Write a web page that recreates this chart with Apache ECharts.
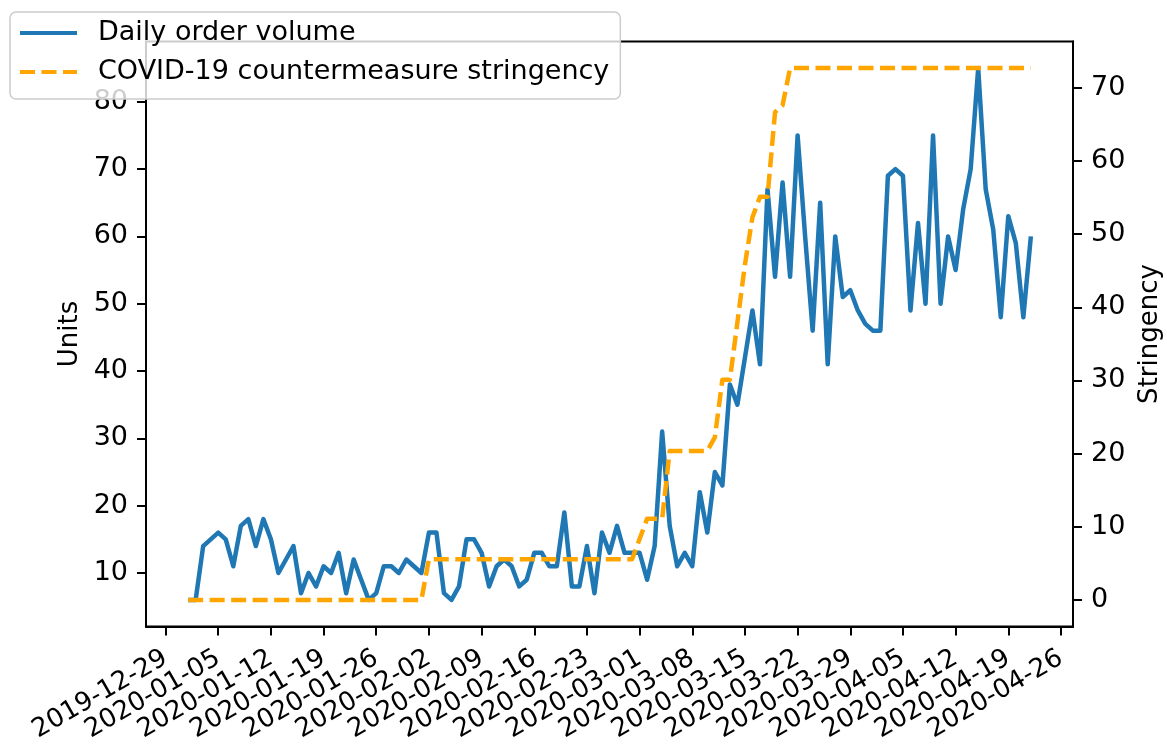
<!DOCTYPE html>
<html>
<head>
<meta charset="utf-8">
<script src="https://cdn.jsdelivr.net/npm/echarts@6/dist/echarts.min.js"></script>
<style>
  html, body { margin: 0; padding: 0; background: #ffffff; }
  #chart { width: 1167px; height: 744px; }
</style>
</head>
<body>
<div id="chart"></div>
<script>
// First day of the daily series
const startDate = '2020-01-01';

// Weekly date ticks on the x axis
const tickDates = [
  '2019-12-29', '2020-01-05', '2020-01-12', '2020-01-19', '2020-01-26',
  '2020-02-02', '2020-02-09', '2020-02-16', '2020-02-23', '2020-03-01',
  '2020-03-08', '2020-03-15', '2020-03-22', '2020-03-29', '2020-04-05',
  '2020-04-12', '2020-04-19', '2020-04-26'
];

// Tick values of the two y axes
const unitTicks = [10, 20, 30, 40, 50, 60, 70, 80];
const stringencyTicks = [0, 10, 20, 30, 40, 50, 60, 70];

// Daily order volume, 2020-01-01 .. 2020-04-22
const orders = [
  6, 6, 14, 15, 16, 15, 11, 17, 18, 14,
  18, 15, 10, 12, 14, 7, 10, 8, 11, 10,
  13, 7, 12, 9, 6, 7, 11, 11, 10, 12,
  11, 10, 16, 16, 7, 6, 8, 15, 15, 13,
  8, 11, 12, 11, 8, 9, 13, 13, 11, 11,
  19, 8, 8, 14, 7, 16, 13, 17, 13, 13,
  13, 9, 14, 31, 17, 11, 13, 11, 22, 16,
  25, 23, 38, 35, 42, 49, 41, 67, 54, 68,
  54, 75, 60, 46, 65, 41, 60, 51, 52, 49,
  47, 46, 46, 69, 70, 69, 49, 62, 50, 75,
  50, 60, 55, 64, 70, 85, 67, 61, 48, 63,
  59, 48, 60
];

// COVID-19 countermeasure stringency index, same days
const stringency = [
  0, 0, 0, 0, 0, 0, 0, 0, 0, 0,
  0, 0, 0, 0, 0, 0, 0, 0, 0, 0,
  0, 0, 0, 0, 0, 0, 0, 0, 0, 0,
  0, 0, 5.56, 5.56, 5.56, 5.56, 5.56, 5.56, 5.56, 5.56,
  5.56, 5.56, 5.56, 5.56, 5.56, 5.56, 5.56, 5.56, 5.56, 5.56,
  5.56, 5.56, 5.56, 5.56, 5.56, 5.56, 5.56, 5.56, 5.56, 5.56,
  8.33, 11.11, 11.11, 11.11, 20.37, 20.37, 20.37, 20.37, 20.37, 20.37,
  22.22, 30.09, 30.09, 37.96, 45.83, 52.31, 55.09, 55.09, 66.67, 67.59,
  72.69, 72.69, 72.69, 72.69, 72.69, 72.69, 72.69, 72.69, 72.69, 72.69,
  72.69, 72.69, 72.69, 72.69, 72.69, 72.69, 72.69, 72.69, 72.69, 72.69,
  72.69, 72.69, 72.69, 72.69, 72.69, 72.69, 72.69, 72.69, 72.69, 72.69,
  72.69, 72.69, 72.69
];

const FONT = 'DejaVu Sans';
const DAY_MS = 86400000;
const toDay = s => Date.parse(s + 'T00:00:00Z') / DAY_MS;
const dayLabel = d => new Date(Math.round(d) * DAY_MS).toISOString().slice(0, 10);

const firstDay = toDay(startDate);
const orderData = orders.map((v, i) => [firstDay + i, v]);
const stringencyData = stringency.map((v, i) => [firstDay + i, v]);

// 5% breathing room around the data on each axis
function padded(lo, hi) {
  const m = (hi - lo) * 0.05;
  return [lo - m, hi + m];
}
const xRange = padded(firstDay, firstDay + orders.length - 1);
const unitRange = padded(Math.min(...orders), Math.max(...orders));
const stringencyRange = padded(Math.min(...stringency), Math.max(...stringency));
const xTicks = tickDates.map(toDay);

const spineStyle = { color: '#000000', width: 2 };
const labelStyle = { color: '#000000', fontFamily: FONT, fontSize: 27, showMinLabel: true, showMaxLabel: true };
const nameStyle = { color: '#000000', fontFamily: FONT, fontSize: 26 };

const chart = echarts.init(document.getElementById('chart'), null, { renderer: 'canvas' });

chart.setOption({
  animation: false,
  backgroundColor: '#ffffff',
  grid: {
    left: 146, right: 94, top: 41.5, bottom: 117.5,
    show: true, borderColor: '#000000', borderWidth: 2,
    backgroundColor: 'transparent',
    containLabel: false, outerBoundsMode: 'none'
  },
  legend: {
    orient: 'vertical',
    left: 10, top: 12,
    padding: [6, 11, 12, 8],
    itemGap: 9,
    itemWidth: 57, itemHeight: 14,
    backgroundColor: 'rgba(255,255,255,0.8)',
    borderColor: '#cccccc', borderWidth: 1.5, borderRadius: 6,
    itemStyle: { opacity: 0 },
    lineStyle: { width: 4 },
    textStyle: { color: '#000000', fontFamily: FONT, fontSize: 27, lineHeight: 30, padding: [0, 0, 0, 16] },
    data: ['Daily order volume', 'COVID-19 countermeasure stringency']
  },
  xAxis: {
    type: 'value',
    min: xRange[0], max: xRange[1],
    axisLine: { show: true, onZero: false, lineStyle: spineStyle },
    splitLine: { show: false },
    axisTick: { show: true, customValues: xTicks, length: 9, lineStyle: spineStyle },
    // slightly smaller so the slanted neighbours keep every weekly label
    axisLabel: Object.assign({ customValues: xTicks, rotate: 30, margin: 30, hideOverlap: false,
      formatter: v => dayLabel(v) }, labelStyle, { fontSize: 26 })
  },
  yAxis: [
    {
      type: 'value', position: 'left',
      min: unitRange[0], max: unitRange[1],
      name: 'Units', nameLocation: 'middle', nameRotate: 90, nameGap: 63,
      nameMoveOverlap: false,
      nameTextStyle: nameStyle,
      axisLine: { show: true, onZero: false, lineStyle: spineStyle },
      splitLine: { show: false },
      axisTick: { show: true, customValues: unitTicks, length: 9, lineStyle: spineStyle },
      axisLabel: Object.assign({ customValues: unitTicks, margin: 18 }, labelStyle)
    },
    {
      type: 'value', position: 'right',
      min: stringencyRange[0], max: stringencyRange[1],
      name: 'Stringency', nameLocation: 'middle', nameRotate: 90, nameGap: 64,
      nameMoveOverlap: false,
      nameTextStyle: nameStyle,
      axisLine: { show: true, onZero: false, lineStyle: spineStyle },
      splitLine: { show: false },
      axisTick: { show: true, customValues: stringencyTicks, length: 9, lineStyle: spineStyle },
      axisLabel: Object.assign({ customValues: stringencyTicks, margin: 18 }, labelStyle)
    }
  ],
  series: [
    {
      name: 'Daily order volume',
      type: 'line',
      xAxisIndex: 0, yAxisIndex: 0,
      data: orderData,
      symbol: 'none', showSymbol: false,
      lineStyle: { color: '#1f77b4', width: 4.5, cap: 'butt', join: 'round' },
      itemStyle: { color: '#1f77b4' },
      z: 2
    },
    {
      name: 'COVID-19 countermeasure stringency',
      type: 'line',
      xAxisIndex: 0, yAxisIndex: 1,
      data: stringencyData,
      symbol: 'none', showSymbol: false,
      lineStyle: { color: '#ffa500', width: 4.5, type: [15, 6.5], cap: 'butt', join: 'round' },
      itemStyle: { color: '#ffa500' },
      z: 3
    }
  ]
});
</script>
</body>
</html>
